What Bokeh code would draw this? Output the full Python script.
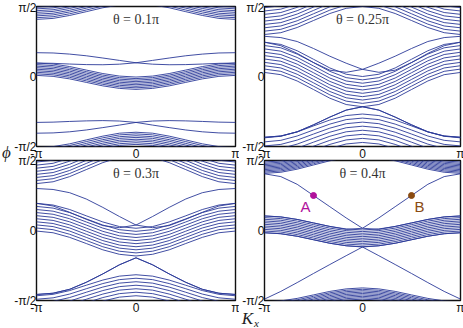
from bokeh.plotting import figure
from bokeh.layouts import column, row
from bokeh.models import Range1d, FixedTicker, Label
from bokeh.embed import file_html
from bokeh.resources import INLINE

# ---------------- data (Kx and phi in units of pi) ----------------
KX_FULL = [-1, -5/6, -2/3, -1/2, -1/3, -1/6, 0, 1/6, 1/3, 1/2, 2/3, 5/6, 1]
# bulk bands: values at Kx = 0, pi/6, pi/3, pi/2, 2pi/3, 5pi/6, pi (symmetric in Kx)

P1_TOP = [
    [0.518, 0.511, 0.491, 0.463, 0.436, 0.415, 0.408],
    [0.530, 0.523, 0.503, 0.475, 0.448, 0.427, 0.420],
    [0.543, 0.536, 0.516, 0.488, 0.461, 0.440, 0.433],
    [0.555, 0.548, 0.528, 0.500, 0.473, 0.452, 0.445],
    [0.568, 0.561, 0.541, 0.513, 0.486, 0.465, 0.458],
    [0.580, 0.573, 0.553, 0.525, 0.498, 0.477, 0.470],
    [0.593, 0.586, 0.566, 0.538, 0.511, 0.490, 0.483],
    [0.605, 0.598, 0.578, 0.550, 0.523, 0.502, 0.495],
]
P1_MID = [
    [-0.004, 0.003, 0.021, 0.046, 0.071, 0.089, 0.096],
    [-0.015, -0.008, 0.010, 0.035, 0.060, 0.078, 0.085],
    [-0.026, -0.019, -0.001, 0.024, 0.049, 0.067, 0.074],
    [-0.037, -0.030, -0.012, 0.013, 0.038, 0.056, 0.063],
    [-0.048, -0.041, -0.023, 0.002, 0.027, 0.045, 0.052],
    [-0.059, -0.052, -0.034, -0.009, 0.016, 0.034, 0.041],
    [-0.070, -0.063, -0.045, -0.020, 0.005, 0.023, 0.030],
    [-0.081, -0.074, -0.056, -0.031, -0.006, 0.012, 0.019],
    [-0.092, -0.085, -0.067, -0.042, -0.017, 0.001, 0.008],
]
P1_BOT = [
    [-0.398, -0.405, -0.426, -0.453, -0.481, -0.501, -0.508],
    [-0.410, -0.417, -0.438, -0.465, -0.493, -0.513, -0.520],
    [-0.423, -0.430, -0.451, -0.478, -0.506, -0.526, -0.533],
    [-0.435, -0.442, -0.463, -0.490, -0.518, -0.538, -0.545],
    [-0.448, -0.455, -0.476, -0.503, -0.531, -0.551, -0.558],
    [-0.460, -0.467, -0.488, -0.515, -0.543, -0.563, -0.570],
    [-0.473, -0.480, -0.501, -0.528, -0.556, -0.576, -0.583],
    [-0.485, -0.492, -0.513, -0.540, -0.568, -0.588, -0.595],
]
# edge states: full Kx = -pi .. pi; partner state is the mirror image
P1_EDGE = [
    [0.170, 0.168, 0.160, 0.148, 0.132, 0.115, 0.098, 0.088, 0.084, 0.085, 0.089, 0.094, 0.096],
    [-0.405, -0.403, -0.395, -0.382, -0.365, -0.347, -0.328, -0.318, -0.315, -0.317, -0.321, -0.326, -0.328],
]

P2_TOP = [
    [0.500, 0.487, 0.450, 0.400, 0.350, 0.313, 0.300],
    [0.524, 0.511, 0.474, 0.424, 0.374, 0.337, 0.324],
    [0.548, 0.535, 0.498, 0.448, 0.398, 0.361, 0.348],
    [0.572, 0.559, 0.522, 0.472, 0.422, 0.385, 0.372],
    [0.596, 0.583, 0.546, 0.496, 0.446, 0.409, 0.396],
    [0.620, 0.607, 0.570, 0.520, 0.470, 0.433, 0.420],
    [0.644, 0.631, 0.594, 0.544, 0.494, 0.457, 0.444],
    [0.668, 0.655, 0.618, 0.568, 0.518, 0.481, 0.468],
    [0.692, 0.679, 0.642, 0.592, 0.542, 0.505, 0.492],
]
P2_MID = [
    [0.000, 0.016, 0.061, 0.123, 0.184, 0.229, 0.245],
    [-0.024, -0.008, 0.037, 0.099, 0.160, 0.205, 0.221],
    [-0.048, -0.032, 0.013, 0.075, 0.136, 0.181, 0.197],
    [-0.072, -0.056, -0.011, 0.051, 0.112, 0.157, 0.173],
    [-0.096, -0.080, -0.035, 0.027, 0.088, 0.133, 0.149],
    [-0.120, -0.104, -0.059, 0.003, 0.064, 0.109, 0.125],
    [-0.144, -0.128, -0.083, -0.021, 0.040, 0.085, 0.101],
    [-0.168, -0.152, -0.107, -0.045, 0.016, 0.061, 0.077],
    [-0.192, -0.176, -0.131, -0.069, -0.008, 0.037, 0.053],
    [-0.216, -0.200, -0.155, -0.093, -0.032, 0.013, 0.029],
]
P2_BOT = [
    [-0.268, -0.279, -0.311, -0.353, -0.396, -0.427, -0.438],
    [-0.297, -0.308, -0.340, -0.382, -0.425, -0.456, -0.467],
    [-0.326, -0.337, -0.369, -0.411, -0.454, -0.485, -0.496],
    [-0.355, -0.366, -0.398, -0.440, -0.483, -0.514, -0.525],
    [-0.384, -0.395, -0.427, -0.469, -0.512, -0.543, -0.554],
    [-0.413, -0.424, -0.456, -0.498, -0.541, -0.572, -0.583],
    [-0.442, -0.453, -0.485, -0.527, -0.570, -0.601, -0.612],
    [-0.471, -0.482, -0.514, -0.556, -0.599, -0.630, -0.641],
]
P2_EDGE = [
    [0.287, 0.278, 0.250, 0.200, 0.145, 0.095, 0.051, 0.030, 0.045, 0.100, 0.165, 0.220, 0.245],
    [-0.434, -0.425, -0.395, -0.345, -0.290, -0.240, -0.216, -0.240, -0.290, -0.345, -0.395, -0.425, -0.434],
]

P3_TOP = [
    [0.535, 0.522, 0.485, 0.435, 0.385, 0.348, 0.335],
    [0.557, 0.544, 0.507, 0.457, 0.407, 0.370, 0.357],
    [0.579, 0.566, 0.529, 0.479, 0.429, 0.392, 0.379],
    [0.601, 0.588, 0.551, 0.501, 0.451, 0.414, 0.401],
    [0.623, 0.610, 0.573, 0.523, 0.473, 0.436, 0.423],
    [0.645, 0.632, 0.595, 0.545, 0.495, 0.458, 0.445],
    [0.667, 0.654, 0.617, 0.567, 0.517, 0.480, 0.467],
    [0.689, 0.676, 0.639, 0.589, 0.539, 0.502, 0.489],
]
P3_MID = [
    [0.016, 0.028, 0.061, 0.105, 0.150, 0.182, 0.194],
    [-0.006, 0.006, 0.039, 0.083, 0.128, 0.160, 0.172],
    [-0.028, -0.016, 0.017, 0.061, 0.106, 0.138, 0.150],
    [-0.050, -0.038, -0.006, 0.039, 0.084, 0.116, 0.128],
    [-0.072, -0.060, -0.028, 0.017, 0.062, 0.094, 0.106],
    [-0.094, -0.082, -0.050, -0.005, 0.040, 0.072, 0.084],
    [-0.116, -0.104, -0.072, -0.027, 0.018, 0.050, 0.062],
    [-0.138, -0.126, -0.094, -0.049, -0.004, 0.028, 0.040],
    [-0.160, -0.148, -0.116, -0.071, -0.027, 0.006, 0.018],
    [-0.182, -0.170, -0.138, -0.093, -0.049, -0.016, -0.004],
]
P3_BOT = [
    [-0.316, -0.326, -0.354, -0.391, -0.429, -0.456, -0.466],
    [-0.341, -0.351, -0.379, -0.416, -0.454, -0.481, -0.491],
    [-0.366, -0.376, -0.404, -0.441, -0.479, -0.506, -0.516],
    [-0.391, -0.401, -0.429, -0.466, -0.504, -0.531, -0.541],
    [-0.416, -0.426, -0.454, -0.491, -0.529, -0.556, -0.566],
    [-0.441, -0.451, -0.479, -0.516, -0.554, -0.581, -0.591],
    [-0.466, -0.476, -0.504, -0.541, -0.579, -0.606, -0.616],
]
P3_EDGE = [
    [0.300, 0.293, 0.270, 0.225, 0.165, 0.100, 0.039, 0.020, 0.035, 0.080, 0.130, 0.175, 0.194],
    [-0.457, -0.448, -0.420, -0.370, -0.310, -0.245, -0.195, -0.245, -0.310, -0.370, -0.420, -0.448, -0.457],
]

P4_TOP = [
    [0.528, 0.520, 0.498, 0.468, 0.438, 0.416, 0.408],
    [0.537, 0.529, 0.507, 0.477, 0.447, 0.425, 0.417],
    [0.546, 0.538, 0.516, 0.486, 0.456, 0.434, 0.426],
    [0.555, 0.547, 0.525, 0.495, 0.465, 0.443, 0.435],
    [0.564, 0.556, 0.534, 0.504, 0.474, 0.452, 0.444],
    [0.573, 0.565, 0.543, 0.513, 0.483, 0.461, 0.453],
    [0.582, 0.574, 0.552, 0.522, 0.492, 0.470, 0.462],
    [0.591, 0.583, 0.561, 0.531, 0.501, 0.479, 0.471],
    [0.600, 0.592, 0.570, 0.540, 0.510, 0.488, 0.480],
    [0.609, 0.601, 0.579, 0.549, 0.519, 0.497, 0.489],
]
P4_MID = [
    [0.004, 0.011, 0.029, 0.054, 0.079, 0.097, 0.104],
    [-0.008, -0.001, 0.017, 0.042, 0.067, 0.085, 0.092],
    [-0.020, -0.013, 0.005, 0.030, 0.055, 0.073, 0.080],
    [-0.032, -0.025, -0.007, 0.018, 0.043, 0.061, 0.068],
    [-0.044, -0.037, -0.019, 0.006, 0.031, 0.049, 0.056],
    [-0.056, -0.049, -0.031, -0.006, 0.019, 0.037, 0.044],
    [-0.068, -0.061, -0.043, -0.018, 0.007, 0.025, 0.032],
    [-0.080, -0.073, -0.055, -0.030, -0.005, 0.013, 0.020],
    [-0.092, -0.085, -0.067, -0.042, -0.017, 0.001, 0.008],
    [-0.104, -0.097, -0.079, -0.054, -0.029, -0.011, -0.004],
    [-0.116, -0.109, -0.091, -0.066, -0.041, -0.023, -0.016],
]
P4_BOT = [
    [-0.410, -0.417, -0.435, -0.460, -0.485, -0.503, -0.510],
    [-0.420, -0.427, -0.445, -0.470, -0.495, -0.513, -0.520],
    [-0.430, -0.437, -0.455, -0.480, -0.505, -0.523, -0.530],
    [-0.440, -0.447, -0.465, -0.490, -0.515, -0.533, -0.540],
    [-0.450, -0.457, -0.475, -0.500, -0.525, -0.543, -0.550],
    [-0.460, -0.467, -0.485, -0.510, -0.535, -0.553, -0.560],
    [-0.470, -0.477, -0.495, -0.520, -0.545, -0.563, -0.570],
    [-0.480, -0.487, -0.505, -0.530, -0.555, -0.573, -0.580],
    [-0.490, -0.497, -0.515, -0.540, -0.565, -0.583, -0.590],
]
P4_EDGE = [
    [0.405, 0.385, 0.330, 0.250, 0.170, 0.090, 0.016, 0.008, 0.029, 0.054, 0.079, 0.097, 0.104],
    [-0.490, -0.435, -0.372, -0.307, -0.243, -0.180, -0.118, -0.109, -0.091, -0.066, -0.041, -0.023, -0.016],
]

THETA_LABELS = ["θ = 0.1π", "θ = 0.25π", "θ = 0.3π", "θ = 0.4π"]
X_TICKS = [-1, 0, 1]
X_TICK_LABELS = ["-π", "0", "π"]
Y_TICKS = [-0.5, 0, 0.5]
Y_TICK_LABELS = ["-π/2", "0", "π/2"]
MARK_NAMES = ["A", "B"]
MARK_KX = [-0.5, 0.5]
MARK_PHI = [0.25, 0.25]
MARK_COLORS = ["#b0119c", "#8a4b12"]

LINE_COLOR = "#2b3a98"
TICK_FONT = "Liberation Sans"
SERIF = "Liberation Serif"


def sym(v):
    return list(v[:0:-1]) + list(v)


def style_axis(ax, ticks, labels):
    ax.ticker = FixedTicker(ticks=ticks)
    ax.major_label_overrides = {t: s for t, s in zip(ticks, labels)}
    ax.axis_line_color = None
    ax.major_tick_line_color = None
    ax.minor_tick_line_color = None
    ax.major_tick_out = 0
    ax.major_tick_in = 0
    ax.major_label_standoff = 0
    ax.major_label_text_font = TICK_FONT
    ax.major_label_text_font_size = "12px"
    ax.major_label_text_color = "#111111"


def make_panel(groups, edges, label, left, right, top, bottom, fw, fh):
    p = figure(frame_width=fw, frame_height=fh,
               x_range=Range1d(-1, 1), y_range=Range1d(-0.5, 0.5),
               output_backend="svg", toolbar_location=None,
               min_border_left=left, min_border_right=right,
               min_border_top=top, min_border_bottom=bottom,
               border_fill_color=None, background_fill_color="white")
    xs, ys = [], []
    for g in groups:
        for band in g:
            xs.append(KX_FULL)
            ys.append(sym(band))
    for e in edges:
        xs.append(KX_FULL)
        ys.append(list(e))
        xs.append(KX_FULL)
        ys.append(list(reversed(e)))
    p.multi_line(xs, ys, line_color=LINE_COLOR, line_width=0.9)

    p.grid.visible = False
    p.outline_line_color = "#111111"
    p.outline_line_width = 1.4
    style_axis(p.xaxis[0], X_TICKS, X_TICK_LABELS)
    style_axis(p.yaxis[0], Y_TICKS, Y_TICK_LABELS)
    p.add_layout(Label(x=0, y=0.41, text=label, text_align="center",
                       text_baseline="middle", text_font=SERIF,
                       text_font_size="14px", text_color="#333333"))
    return p


def text_box(w, h, items):
    """small transparent figure that only holds axis-title text"""
    f = figure(frame_width=w, frame_height=h, x_range=Range1d(0, w), y_range=Range1d(0, h),
               x_axis_type=None, y_axis_type=None, output_backend="svg",
               toolbar_location=None, min_border=0, border_fill_color=None,
               background_fill_color=None, outline_line_color=None)
    f.grid.visible = False
    for txt, x, y, size in items:
        f.add_layout(Label(x=x, y=y, text=txt, text_align="center", text_baseline="middle",
                           text_font=SERIF, text_font_style="italic",
                           text_font_size=size, text_color="#222222"))
    return f


FW_L, FW_R, FH = 199, 196, 140
p1 = make_panel([P1_TOP, P1_MID, P1_BOT], P1_EDGE, THETA_LABELS[0], 36, 4, 6, 20, FW_L, FH)
p2 = make_panel([P2_TOP, P2_MID, P2_BOT], P2_EDGE, THETA_LABELS[1], 22, 6, 6, 20, FW_R, FH)
p3 = make_panel([P3_TOP, P3_MID, P3_BOT], P3_EDGE, THETA_LABELS[2], 36, 4, 7, 20, FW_L, FH)
p4 = make_panel([P4_TOP, P4_MID, P4_BOT], P4_EDGE, THETA_LABELS[3], 22, 6, 7, 20, FW_R, FH)

# marked points A and B
p4.scatter(MARK_KX, MARK_PHI, size=6, color=MARK_COLORS)
for name, kx, ph, col, dx in zip(MARK_NAMES, MARK_KX, MARK_PHI, MARK_COLORS, (-8, 8)):
    p4.add_layout(Label(x=kx, y=ph, x_offset=dx, y_offset=-11, text=name,
                        text_align="center", text_baseline="middle",
                        text_font=TICK_FONT, text_font_size="15px", text_color=col))

phi_box = text_box(14, 20, [("ϕ", 6, 10, "17px")])
kx_box = text_box(26, 20, [("K", 11, 10, "17px"), ("x", 20, 6, "11px")])

top_row = row(p1, p2)
bottom_row = row(p3, p4)
phi_box.margin = (-24, 0, 0, 0)
bottom_row.margin = (-9, 0, 0, 0)
kx_box.margin = (-12, 0, 0, 236)
layout = column(top_row, phi_box, bottom_row, kx_box)
open("out.html", "w").write(file_html(layout, INLINE))
